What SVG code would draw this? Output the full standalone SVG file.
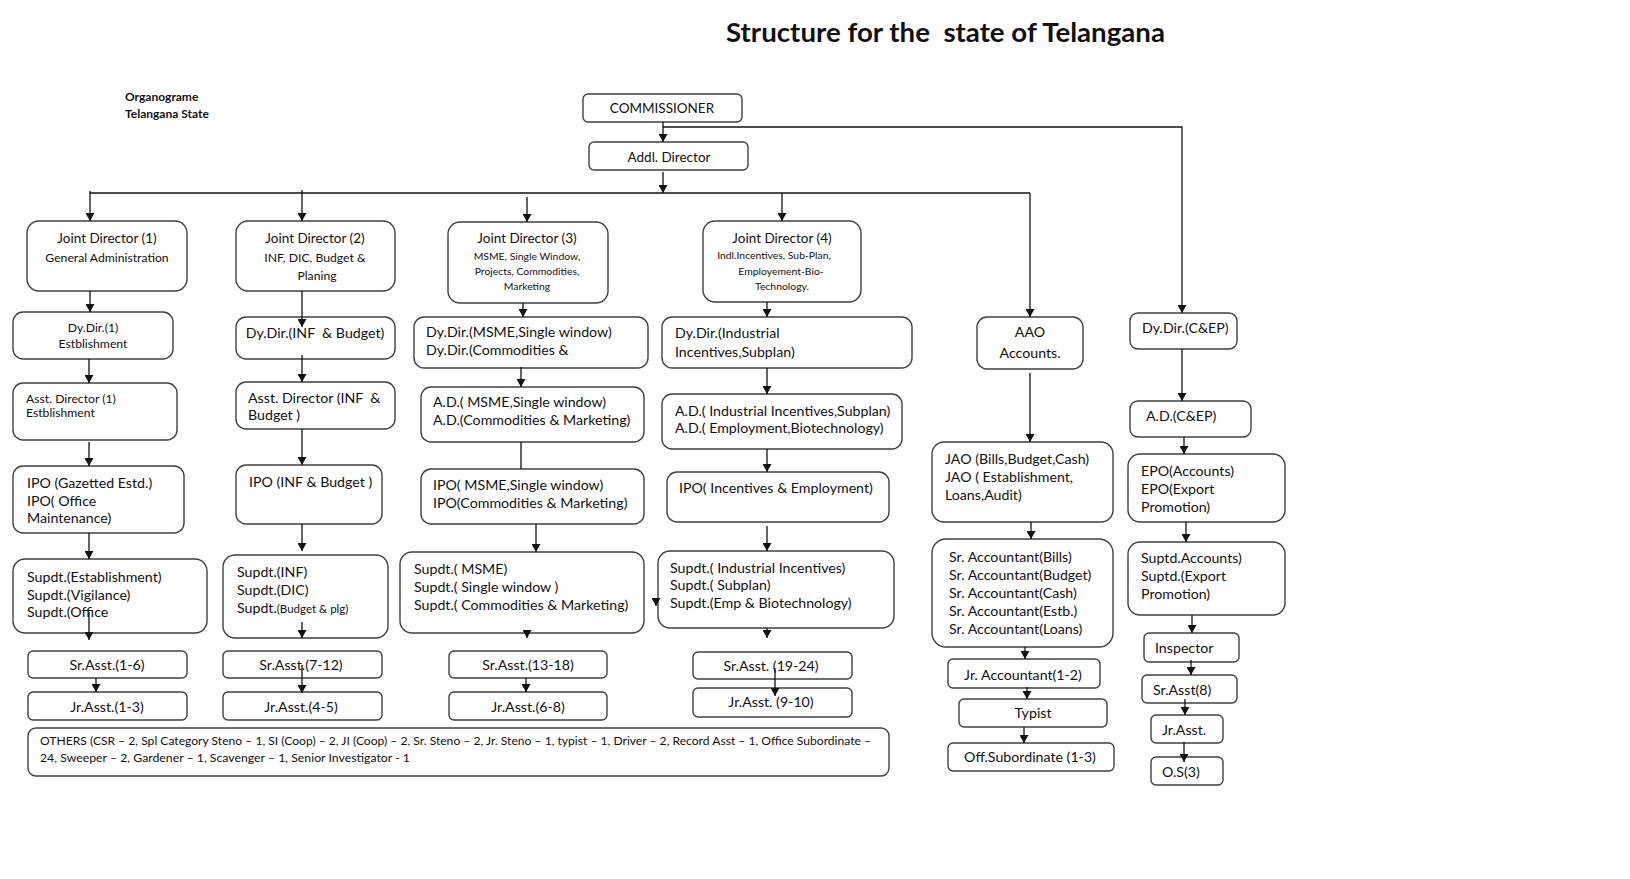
<svg xmlns="http://www.w3.org/2000/svg" width="1630" height="879" viewBox="0 0 1630 879">
<style>
.b{fill:#fff;stroke:#404040;stroke-width:1.4}
text{font-family:Lato,"Liberation Sans",sans-serif;fill:#111}
.t{font-size:14.2px}
.h{font-size:13.5px}
.s{font-size:12.2px}
.xs{font-size:10.4px}
.c{text-anchor:middle}
.ln{fill:none;stroke:#111;stroke-width:1.3}
.ar{marker-end:url(#ah)}
.pre{white-space:pre}
</style>
<defs>
<marker id="ah" markerWidth="8" markerHeight="9" refX="8" refY="4.5" orient="auto" markerUnits="userSpaceOnUse">
<path d="M0,0 L8,4.5 L0,9 z" fill="#111"/>
</marker>
</defs>
<rect width="1630" height="879" fill="#fff"/>
<text x="726" y="42" font-size="26" font-weight="bold" class="pre" textLength="439" lengthAdjust="spacingAndGlyphs">Structure for the  state of Telangana</text>
<text x="125" y="101" font-size="12" font-weight="bold">Organograme</text>
<text x="125" y="118" font-size="12" font-weight="bold">Telangana State</text>

<g id="commissioner"><rect class="b" x="583" y="94" width="159" height="28" rx="5"/><text class="h c" x="662" y="113">COMMISSIONER</text></g>
<g id="addl-director"><rect class="b" x="589" y="142" width="159" height="28" rx="5"/><text class="h c" x="669" y="162">Addl. Director</text></g>

<g id="jd1"><rect class="b" x="27" y="221" width="160" height="70" rx="12"/><text class="h c" x="107" y="243">Joint Director (1)</text><text class="s c" x="107" y="262">General Administration</text></g>
<g id="jd2"><rect class="b" x="236" y="221" width="159" height="70" rx="12"/><text class="h c" x="315" y="243">Joint Director (2)</text><text class="s c" x="315" y="262">INF, DIC, Budget &amp;</text><text class="s c" x="317" y="280">Planing</text></g>
<g id="jd3"><rect class="b" x="448" y="222" width="160" height="81" rx="12"/><text class="h c" x="527" y="243">Joint Director (3)</text><text class="xs c" x="527" y="260">MSME, Single Window,</text><text class="xs c" x="527" y="275">Projects, Commodities,</text><text class="xs c" x="527" y="290">Marketing</text></g>
<g id="jd4"><rect class="b" x="703" y="221" width="158" height="81" rx="12"/><text class="h c" x="782" y="243">Joint Director (4)</text><text class="xs c" x="774" y="259">Indl.Incentives, Sub-Plan,</text><text class="xs c" x="781" y="275">Employement-Bio-</text><text class="xs c" x="782" y="290">Technology.</text></g>

<g id="dydir1"><rect class="b" x="13" y="312" width="160" height="47" rx="10"/><text class="s c" x="93" y="332">Dy.Dir.(1)</text><text class="s c" x="93" y="348">Estblishment</text></g>
<g id="dydir-inf"><rect class="b" x="236" y="317" width="159" height="42" rx="10"/><text class="t c pre" x="315" y="338">Dy.Dir.(INF  &amp; Budget)</text></g>
<g id="dydir-msme"><rect class="b" x="414" y="317" width="234" height="51" rx="10"/><text class="t" x="426" y="337">Dy.Dir.(MSME,Single window)</text><text class="t" x="426" y="355">Dy.Dir.(Commodities &amp;</text></g>
<g id="dydir-ind"><rect class="b" x="662" y="317" width="250" height="51" rx="10"/><text class="t" x="675" y="338">Dy.Dir.(Industrial</text><text class="t" x="675" y="357">Incentives,Subplan)</text></g>
<g id="aao"><rect class="b" x="977" y="317" width="106" height="52" rx="10"/><text class="t c" x="1030" y="337">AAO</text><text class="t c" x="1030" y="358">Accounts.</text></g>
<g id="dydir-cep"><rect class="b" x="1130" y="313" width="107" height="36" rx="8"/><text class="t" x="1142" y="333">Dy.Dir.(C&amp;EP)</text></g>

<g id="ad1"><rect class="b" x="13" y="383" width="164" height="57" rx="10"/><text class="s" x="26" y="403">Asst. Director (1)</text><text class="s" x="26" y="417">Estblishment</text></g>
<g id="ad-inf"><rect class="b" x="236" y="382" width="159" height="47" rx="10"/><text class="t pre" x="248" y="403">Asst. Director (INF  &amp;</text><text class="t" x="248" y="420">Budget )</text></g>
<g id="ad-msme"><rect class="b" x="421" y="387" width="223" height="55" rx="10"/><text class="t" x="433" y="407">A.D.( MSME,Single window)</text><text class="t" x="433" y="425">A.D.(Commodities &amp; Marketing)</text></g>
<g id="ad-ind"><rect class="b" x="662" y="394" width="240" height="55" rx="10"/><text class="t" x="675" y="416">A.D.( Industrial Incentives,Subplan)</text><text class="t" x="675" y="433">A.D.( Employment,Biotechnology)</text></g>
<g id="ad-cep"><rect class="b" x="1130" y="401" width="121" height="36" rx="8"/><text class="t" x="1146" y="421">A.D.(C&amp;EP)</text></g>
<g id="jao"><rect class="b" x="932" y="442" width="181" height="80" rx="12"/><text class="t" x="945" y="464">JAO (Bills,Budget,Cash)</text><text class="t" x="945" y="482">JAO ( Establishment,</text><text class="t" x="945" y="500">Loans,Audit)</text></g>

<g id="ipo-gaz"><rect class="b" x="13" y="466" width="171" height="67" rx="10"/><text class="t" x="27" y="488">IPO (Gazetted Estd.)</text><text class="t" x="27" y="506">IPO( Office</text><text class="t" x="27" y="523">Maintenance)</text></g>
<g id="ipo-inf"><rect class="b" x="236" y="465" width="146" height="59" rx="10"/><text class="t" x="249" y="487">IPO (INF &amp; Budget )</text></g>
<g id="ipo-msme"><rect class="b" x="421" y="469" width="223" height="55" rx="10"/><text class="t" x="433" y="490">IPO( MSME,Single window)</text><text class="t" x="433" y="508">IPO(Commodities &amp; Marketing)</text></g>
<g id="ipo-inc"><rect class="b" x="667" y="472" width="222" height="50" rx="10"/><text class="t" x="679" y="493">IPO( Incentives &amp; Employment)</text></g>
<g id="epo"><rect class="b" x="1128" y="454" width="157" height="68" rx="12"/><text class="t" x="1141" y="476">EPO(Accounts)</text><text class="t" x="1141" y="494">EPO(Export</text><text class="t" x="1141" y="512">Promotion)</text></g>

<g id="supdt-est"><rect class="b" x="13" y="559" width="194" height="74" rx="12"/><text class="t" x="27" y="582">Supdt.(Establishment)</text><text class="t" x="27" y="600">Supdt.(Vigilance)</text><text class="t" x="27" y="617">Supdt.(Office</text></g>
<g id="supdt-inf"><rect class="b" x="223" y="555" width="165" height="83" rx="12"/><text class="t" x="237" y="577">Supdt.(INF)</text><text class="t" x="237" y="595">Supdt.(DIC)</text><text class="t" x="237" y="613">Supdt.<tspan font-size="11.5">(Budget &amp; plg)</tspan></text></g>
<g id="supdt-msme"><rect class="b" x="400" y="552" width="244" height="81" rx="12"/><text class="t" x="414" y="574">Supdt.( MSME)</text><text class="t" x="414" y="592">Supdt.( Single window )</text><text class="t" x="414" y="610">Supdt.( Commodities &amp; Marketing)</text></g>
<g id="supdt-ind"><rect class="b" x="658" y="551" width="236" height="77" rx="12"/><text class="t" x="670" y="573">Supdt.( Industrial Incentives)</text><text class="t" x="670" y="590">Supdt.( Subplan)</text><text class="t" x="670" y="608">Supdt.(Emp &amp; Biotechnology)</text></g>
<g id="sr-accountant"><rect class="b" x="932" y="539" width="181" height="108" rx="14"/><text class="t" x="949" y="562">Sr. Accountant(Bills)</text><text class="t" x="949" y="580">Sr. Accountant(Budget)</text><text class="t" x="949" y="598">Sr. Accountant(Cash)</text><text class="t" x="949" y="616">Sr. Accountant(Estb.)</text><text class="t" x="949" y="634">Sr. Accountant(Loans)</text></g>
<g id="suptd"><rect class="b" x="1128" y="542" width="157" height="73" rx="12"/><text class="t" x="1141" y="563">Suptd.Accounts)</text><text class="t" x="1141" y="581">Suptd.(Export</text><text class="t" x="1141" y="599">Promotion)</text></g>

<g id="srasst1"><rect class="b" x="28" y="651" width="159" height="27" rx="5"/><text class="t c" x="107" y="670">Sr.Asst.(1-6)</text></g>
<g id="srasst2"><rect class="b" x="223" y="651" width="159" height="27" rx="5"/><text class="t c" x="301" y="670">Sr.Asst.(7-12)</text></g>
<g id="srasst3"><rect class="b" x="449" y="651" width="158" height="27" rx="5"/><text class="t c" x="528" y="670">Sr.Asst.(13-18)</text></g>
<g id="srasst4"><rect class="b" x="693" y="652" width="159" height="27" rx="5"/><text class="t c" x="771" y="671">Sr.Asst. (19-24)</text></g>
<g id="jrasst1"><rect class="b" x="28" y="692" width="159" height="28" rx="5"/><text class="t c" x="107" y="712">Jr.Asst.(1-3)</text></g>
<g id="jrasst2"><rect class="b" x="223" y="692" width="159" height="28" rx="5"/><text class="t c" x="301" y="712">Jr.Asst.(4-5)</text></g>
<g id="jrasst3"><rect class="b" x="449" y="692" width="158" height="28" rx="5"/><text class="t c" x="528" y="712">Jr.Asst.(6-8)</text></g>
<g id="jrasst4"><rect class="b" x="693" y="688" width="159" height="29" rx="5"/><text class="t c" x="771" y="707">Jr.Asst. (9-10)</text></g>

<g id="jr-accountant"><rect class="b" x="948" y="659" width="152" height="29" rx="5"/><text class="t c" x="1023" y="680">Jr. Accountant(1-2)</text></g>
<g id="typist"><rect class="b" x="959" y="699" width="148" height="28" rx="5"/><text class="t c" x="1033" y="718">Typist</text></g>
<g id="off-sub"><rect class="b" x="948" y="743" width="166" height="28" rx="5"/><text class="t c" x="1030" y="762">Off.Subordinate (1-3)</text></g>
<g id="inspector"><rect class="b" x="1144" y="633" width="95" height="29" rx="5"/><text class="t" x="1155" y="653">Inspector</text></g>
<g id="srasst8"><rect class="b" x="1142" y="675" width="95" height="28" rx="5"/><text class="t" x="1153" y="695">Sr.Asst(8)</text></g>
<g id="jrasst"><rect class="b" x="1151" y="715" width="72" height="28" rx="5"/><text class="t" x="1162" y="735">Jr.Asst.</text></g>
<g id="os3"><rect class="b" x="1151" y="757" width="72" height="28" rx="5"/><text class="t" x="1162" y="777">O.S(3)</text></g>

<g id="others"><rect class="b" x="28" y="728" width="861" height="48" rx="8"/><text font-size="11.5" x="40" y="745" textLength="831" lengthAdjust="spacingAndGlyphs">OTHERS (CSR – 2, Spl Category Steno – 1, SI (Coop) – 2, JI (Coop) – 2, Sr. Steno – 2, Jr. Steno – 1, typist – 1, Driver – 2, Record Asst – 1, Office Subordinate –</text><text font-size="11.5" x="40" y="762" textLength="370" lengthAdjust="spacingAndGlyphs">24, Sweeper – 2, Gardener – 1, Scavenger – 1, Senior Investigator - 1</text></g>

<g id="connectors">
<path class="ln ar" d="M663,122 V142"/>
<path class="ln ar" d="M663,127 H1182 V313"/>
<path class="ln ar" d="M663,172 V193"/>
<path class="ln" d="M90,193 H1030"/>
<path class="ln ar" d="M90,191 V221"/>
<path class="ln ar" d="M302,190 V221"/>
<path class="ln ar" d="M527,197 V222"/>
<path class="ln ar" d="M782,193 V221"/>
<path class="ln ar" d="M1030,193 V317"/>
<path class="ln ar" d="M90,291 V312"/>
<path class="ln ar" d="M89,359 V383"/>
<path class="ln ar" d="M89,442 V466"/>
<path class="ln ar" d="M89,533 V559"/>
<path class="ln ar" d="M89,612 V640"/>
<path class="ln ar" d="M96,678 V692"/>
<path class="ln ar" d="M302,291 V327"/>
<path class="ln ar" d="M302,355 V382"/>
<path class="ln ar" d="M302,429 V465"/>
<path class="ln ar" d="M302,524 V551"/>
<path class="ln ar" d="M302,622 V638"/>
<path class="ln ar" d="M302,665 V693"/>
<path class="ln ar" d="M523,303 V317"/>
<path class="ln ar" d="M521,367 V387"/>
<path class="ln" d="M521,442 V469"/>
<path class="ln ar" d="M536,524 V552"/>
<path class="ln ar" d="M527,633 V638"/>
<path class="ln ar" d="M526,678 V692"/>
<path class="ln ar" d="M656,599 V606"/>
<path class="ln ar" d="M767,302 V317"/>
<path class="ln ar" d="M767,368 V394"/>
<path class="ln ar" d="M767,449 V472"/>
<path class="ln ar" d="M767,526 V551"/>
<path class="ln ar" d="M767,628 V638"/>
<path class="ln ar" d="M775,668 V696"/>
<path class="ln ar" d="M1030,373 V442"/>
<path class="ln ar" d="M1031,522 V539"/>
<path class="ln ar" d="M1025,647 V659"/>
<path class="ln ar" d="M1027,687 V699"/>
<path class="ln ar" d="M1024,727 V743"/>
<path class="ln ar" d="M1182,349 V401"/>
<path class="ln ar" d="M1184,437 V454"/>
<path class="ln ar" d="M1186,522 V542"/>
<path class="ln ar" d="M1192,615 V633"/>
<path class="ln ar" d="M1191,660 V675"/>
<path class="ln ar" d="M1185,699 V715"/>
<path class="ln ar" d="M1184,742 V762"/>
</g>
</svg>
